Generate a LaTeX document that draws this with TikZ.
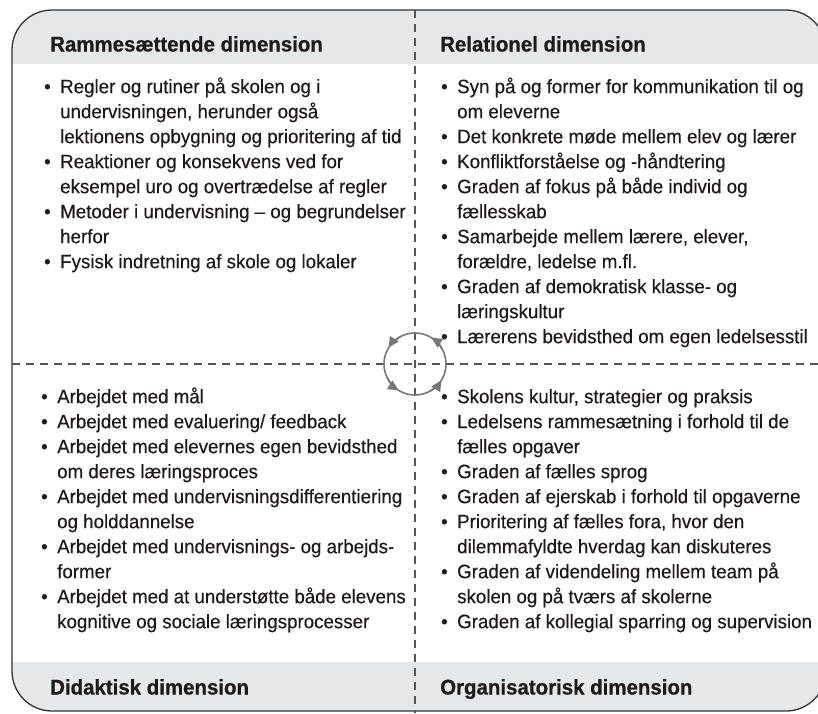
\documentclass[tikz,border=0pt]{standalone}
\usepackage{fontspec}
\setmainfont{Liberation Sans}[FakeStretch=0.96, UprightFeatures={FakeBold=0.35}, BoldFeatures={FakeBold=0.6}]
\usetikzlibrary{arrows.meta}
\definecolor{band}{HTML}{E6E7E8}
\definecolor{ink}{HTML}{1E1A1B}
\definecolor{framec}{HTML}{333333}
\definecolor{sepc}{HTML}{555555}
\definecolor{circc}{HTML}{777777}
\newcommand\bu{\strut\llap{\textbullet\hspace{9.5pt}}}
\newcommand\nb{\strut}
\begin{document}
\begin{tikzpicture}[x=1pt,y=-1pt,
  head/.style={font=\bfseries\fontsize{21.3}{26}\selectfont, text=ink, anchor=base west, inner sep=0},
  body/.style={font=\fontsize{19.5}{25}\selectfont, text=ink, anchor=north west, inner sep=0, align=left},
  sepline/.style={draw=sepc, line width=1.3pt, dash pattern=on 8pt off 6pt},
  framestyle/.style={draw=framec, line width=1.3pt, rounded corners=40pt},
  cyclestyle/.style={draw=circc, line width=1.6pt},
  cyctip/.style={circc, line width=1.6pt, -{Triangle[length=10.5pt,width=10pt]}}]
\useasboundingbox (0,0) rectangle (818,713);
% bands
\begin{scope}
  \clip[rounded corners=40pt] (12,10) rectangle (826,711);
  \fill[band] (0,0) rectangle (830,64);
  \fill[band] (0,662) rectangle (830,713);
\end{scope}
\draw[framestyle] (12,10) rectangle (826,711);
% separators
\coordinate (vt) at (415,10);
\coordinate (vb) at (415,713);
\coordinate (hl) at (12,364);
\coordinate (hr) at (818,364);
\draw[sepline] (vt) -- (vb);
\draw[sepline] (hl) -- (hr);
% cycle
\node[circle, cyclestyle, minimum size=62pt, inner sep=0] (cyc) at (415,364) {};
\begin{scope}[shift={(415,364)}, y=1pt]
  \draw[cyctip] (28:31) arc[start angle=28, end angle=58, radius=31];
  \draw[cyctip] (118:31) arc[start angle=118, end angle=148, radius=31];
  \draw[cyctip] (208:31) arc[start angle=208, end angle=238, radius=31];
  \draw[cyctip] (298:31) arc[start angle=298, end angle=328, radius=31];
\end{scope}
% headers
\node[head] (h1) at (50,51.5) {Rammesættende dimension};
\node[head] (h2) at (440,51.5) {Relationel dimension};
\node[head] (h3) at (50,694.5) {Didaktisk dimension};
\node[head] (h4) at (440,694.5) {Organisatorisk dimension};
% bodies
\node[body] (q1) at (60,75.5) {\bu Regler og rutiner på skolen og i\\
\nb undervisningen, herunder også\\
\nb lektionens opbygning og prioritering af tid\\
\bu Reaktioner og konsekvens ved for\\
\nb eksempel uro og overtrædelse af regler\\
\bu Metoder i undervisning – og begrundelser\\
\nb herfor\\
\bu Fysisk indretning af skole og lokaler};
\node[body] (q2) at (457,75.5) {\bu Syn på og former for kommunikation til og\\
\nb om eleverne\\
\bu Det konkrete møde mellem elev og lærer\\
\bu Konfliktforståelse og -håndtering\\
\bu Graden af fokus på både individ og\\
\nb fællesskab\\
\bu Samarbejde mellem lærere, elever,\\
\nb forældre, ledelse m.fl.\\
\bu Graden af demokratisk klasse- og\\
\nb læringskultur\\
\bu Lærerens bevidsthed om egen ledelsesstil};
\node[body] (q3) at (57,385.5) {\bu Arbejdet med mål\\
\bu Arbejdet med evaluering/ feedback\\
\bu Arbejdet med elevernes egen bevidsthed\\
\nb om deres læringsproces\\
\bu Arbejdet med undervisningsdifferentiering\\
\nb og holddannelse\\
\bu Arbejdet med undervisnings- og arbejds-\\
\nb former\\
\bu Arbejdet med at understøtte både elevens\\
\nb kognitive og sociale læringsprocesser};
\node[body] (q4) at (457,385.5) {\bu Skolens kultur, strategier og praksis\\
\bu Ledelsens rammesætning i forhold til de\\
\nb fælles opgaver\\
\bu Graden af fælles sprog\\
\bu Graden af ejerskab i forhold til opgaverne\\
\bu Prioritering af fælles fora, hvor den\\
\nb dilemmafyldte hverdag kan diskuteres\\
\bu Graden af videndeling mellem team på\\
\nb skolen og på tværs af skolerne\\
\bu Graden af kollegial sparring og supervision};
\end{tikzpicture}
\end{document}
